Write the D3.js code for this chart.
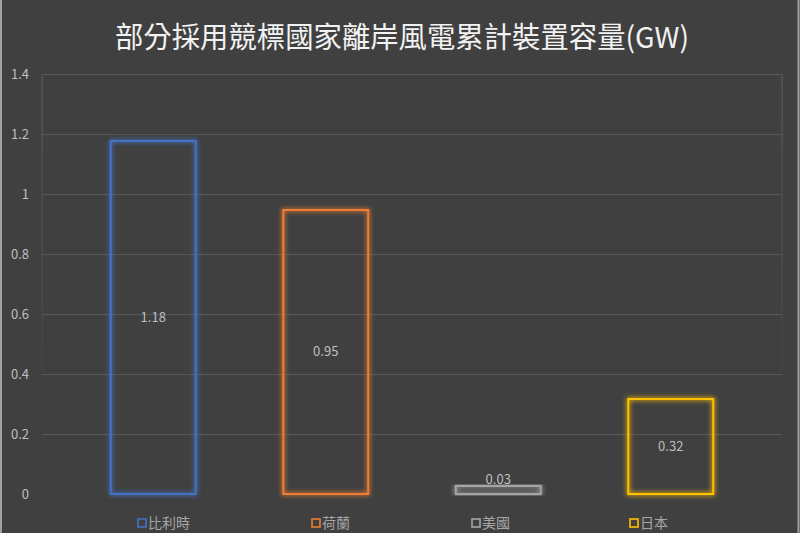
<!DOCTYPE html>
<html>
<head>
<meta charset="utf-8">
<script src="https://cdn.jsdelivr.net/npm/d3@7/dist/d3.min.js"></script>
<style>
html,body{margin:0;padding:0;background:#404040;}
svg{display:block;}
</style>
</head>
<body>
<svg id="chart" width="800" height="533"></svg>
<script>
const title = "部分採用競標國家離岸風電累計裝置容量(GW)";
const categories = ["比利時", "荷蘭", "美國", "日本"];
const values = [1.18, 0.95, 0.03, 0.32];
const colors = ["#4472C4", "#ED7D31", "#A5A5A5", "#FFC000"];
const yTicks = [0, 0.2, 0.4, 0.6, 0.8, 1, 1.2, 1.4];

const W = 800, H = 533;
const plot = {left: 42, right: 782, top: 74, bottom: 494};
const svg = d3.select("#chart");
const font = "'Noto Sans CJK TC','Noto Sans',sans-serif";

svg.append("rect").attr("width", W).attr("height", H).attr("fill", "#404040");

const defs = svg.append("defs");
const glow = defs.append("filter").attr("id", "glow")
  .attr("x", "-20%").attr("y", "-20%").attr("width", "140%").attr("height", "140%");
glow.append("feGaussianBlur").attr("in", "SourceGraphic").attr("stdDeviation", 2.6).attr("result", "b");
glow.append("feComponentTransfer").attr("in", "b").attr("result", "b2")
  .append("feFuncA").attr("type", "linear").attr("slope", 1.4);
const m = glow.append("feMerge");
m.append("feMergeNode").attr("in", "b2");
m.append("feMergeNode").attr("in", "SourceGraphic");

const fade = defs.append("linearGradient").attr("id", "fade")
  .attr("x1", 0).attr("y1", 0).attr("x2", 0).attr("y2", 1);
fade.append("stop").attr("offset", "0%").attr("stop-color", "#5a5a5a").attr("stop-opacity", 1);
fade.append("stop").attr("offset", "100%").attr("stop-color", "#5a5a5a").attr("stop-opacity", 0);

const y = d3.scaleLinear().domain([0, 1.4]).range([plot.bottom, plot.top]);
const x = d3.scaleBand().domain(categories).range([67, 757]).paddingInner(0.496).paddingOuter(0.248);

// gridlines
svg.append("g").selectAll("line").data(yTicks.filter(t => t > 0)).join("line")
  .attr("x1", plot.left).attr("x2", plot.right)
  .attr("y1", d => y(d) + 0.5).attr("y2", d => y(d) + 0.5)
  .attr("stroke", "#585858").attr("stroke-width", 1);

// faint frame sides
[plot.left, plot.right].forEach(px => {
  svg.append("rect").attr("x", px - 0.5).attr("y", plot.top).attr("width", 1.2)
    .attr("height", 360).attr("fill", "url(#fade)");
});

// y axis labels
const yAxis = d3.axisLeft(y).tickValues(yTicks).tickSize(0).tickPadding(0)
  .tickFormat(d => d3.format("")(+d.toFixed(1)));
const ga = svg.append("g").attr("transform", "translate(29,0)").call(yAxis);
ga.select(".domain").remove();
ga.selectAll("text").attr("fill", "#bfbfbf").attr("font-size", 13)
  .attr("font-family", font).attr("dy", "0.35em");

// bars
const sw = 2;
svg.append("g").selectAll("rect").data(values).join("rect")
  .attr("x", (d, i) => x(categories[i]) + sw / 2)
  .attr("y", d => y(d) + sw / 2)
  .attr("width", x.bandwidth() - sw)
  .attr("height", d => y(0) - y(d) - sw / 2)
  .attr("fill", "none")
  .attr("stroke", (d, i) => colors[i])
  .attr("stroke-width", sw)
  .attr("filter", "url(#glow)");

// data labels
svg.append("g").selectAll("text").data(values).join("text")
  .attr("x", (d, i) => x(categories[i]) + x.bandwidth() / 2)
  .attr("y", d => {
    const top = y(d), mid = (y(d) + y(0)) / 2;
    return (y(0) - top) < 20 ? top - 6 : mid;
  })
  .attr("dy", "0.35em")
  .attr("text-anchor", "middle")
  .attr("fill", "#bfbfbf").attr("font-size", 13).attr("font-family", font)
  .text(d => d.toFixed(2));

// legend
const legendX = [137, 311, 471, 629];
const lg = svg.append("g").selectAll("g").data(categories).join("g")
  .attr("transform", (d, i) => `translate(${legendX[i]},523)`);
lg.append("rect").attr("x", 1).attr("y", -4).attr("width", 8).attr("height", 8)
  .attr("fill", "none").attr("stroke", (d, i) => colors[i]).attr("stroke-width", 1.6);
lg.append("text").attr("x", 11).attr("dy", "0.35em").attr("fill", "#a6a6a6")
  .attr("font-size", 14).attr("font-family", font).text(d => d);

// title
svg.append("text").attr("x", 402).attr("y", 38).attr("dy", "0.35em")
  .attr("text-anchor", "middle").attr("fill", "#f2f2f2")
  .attr("font-size", 29).attr("font-family", font)
  .attr("textLength", 574).attr("lengthAdjust", "spacingAndGlyphs")
  .text(title);

// outer borders
svg.append("line").attr("x1", 1).attr("x2", 1).attr("y1", 0).attr("y2", H)
  .attr("stroke", "#a0a0a0").attr("stroke-width", 2);
svg.append("line").attr("x1", 798.5).attr("x2", 798.5).attr("y1", 0).attr("y2", H)
  .attr("stroke", "#a0a0a0").attr("stroke-width", 2);
</script>
</body>
</html>
